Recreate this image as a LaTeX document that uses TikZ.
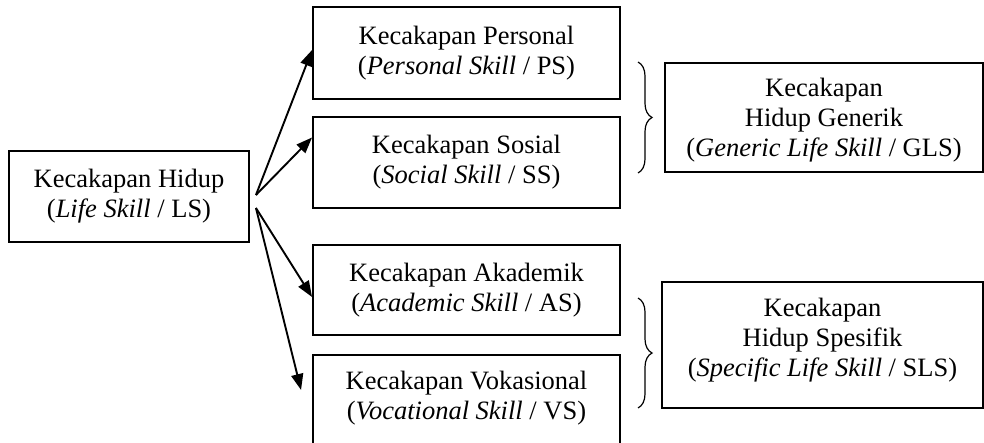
\documentclass[tikz,border=0pt]{standalone}
\usepackage{fontspec}
\setmainfont{Liberation Serif}
\usetikzlibrary{arrows.meta,decorations.pathreplacing}
\begin{document}
\begin{tikzpicture}[x=1pt,y=-1pt,
  box/.style={draw,line width=1.9pt,align=center,inner sep=0pt,
    font=\fontsize{26.5}{30}\selectfont},
  txt/.style={align=center,inner sep=0pt,font=\fontsize{26.5}{30}\selectfont},
  arr/.style={line width=1.9pt,-{Triangle[length=16pt,width=12pt]}},
  brc/.style={line width=1.2pt,decorate,decoration={brace,amplitude=14pt}}]
\useasboundingbox (0,0) rectangle (984,443);
\clip (0,0) rectangle (984,443);
\node[box,minimum width=240pt,minimum height=91pt] (ls) at (129,196.5)
  {Kecakapan Hidup\\(\textit{Life Skill} / LS)};
\node[box,minimum width=307pt,minimum height=92pt] (ps) at (466.5,53)
  {Kecakapan Personal\\(\textit{Personal Skill} / PS)};
\node[box,minimum width=307pt,minimum height=91pt] (ss) at (466.5,162.5)
  {Kecakapan Sosial\\(\textit{Social Skill} / SS)};
\node[box,minimum width=307pt,minimum height=90pt] (as) at (466.5,290)
  {Kecakapan Akademik\\(\textit{Academic Skill} / AS)};
\node[box,minimum width=307pt,minimum height=94pt] (vs) at (466.5,402) {};
\node[txt] (vst) at ([yshift=4pt]vs.center)
  {Kecakapan Vokasional\\(\textit{Vocational Skill} / VS)};
\node[box,minimum width=318pt,minimum height=109pt] (gls) at (824,117.5) {};
\node[txt] (glst) at ([yshift=-3pt]gls.center)
  {Kecakapan\\Hidup Generik\\(\textit{Generic Life Skill} / GLS)};
\node[box,minimum width=321pt,minimum height=126pt] (sls) at (822.5,345) {};
\node[txt] (slst) at ([yshift=5pt]sls.center)
  {Kecakapan\\Hidup Spesifik\\(\textit{Specific Life Skill} / SLS)};
\coordinate (s1) at ([xshift=6pt,yshift=1.5pt]ls.east);
\coordinate (s2) at ([xshift=6pt,yshift=-11.5pt]ls.east);
\draw[arr] (s1) -- ([yshift=3pt]ps.west);
\draw[arr] (s1) -- ([yshift=25pt]ss.west);
\draw[arr] (s2) -- ([yshift=-7pt]as.west);
\draw[arr] (s2) -- ([xshift=-11pt,yshift=12pt]vs.west);
\coordinate (b1t) at (638,62);
\coordinate (b1b) at (638,173);
\coordinate (b2t) at (638,298);
\coordinate (b2b) at (638,408);
\draw[brc] (b1t) -- (b1b);
\draw[brc] (b2t) -- (b2b);
\end{tikzpicture}
\end{document}
